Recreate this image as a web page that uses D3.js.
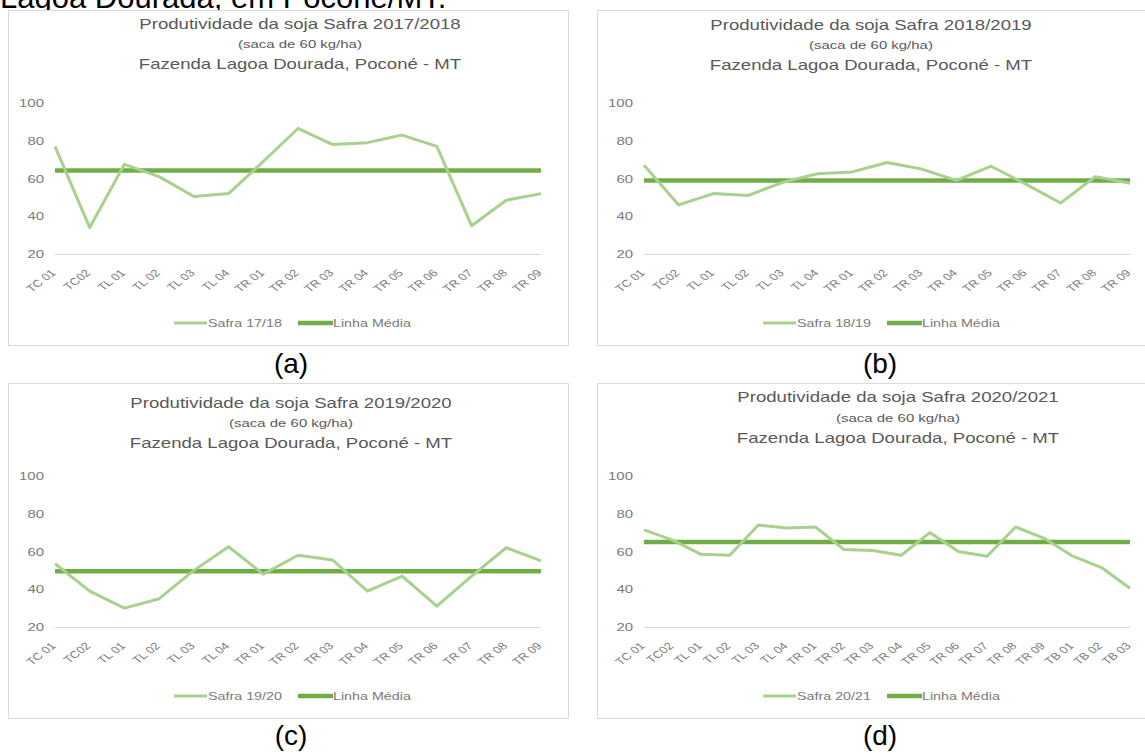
<!DOCTYPE html>
<html>
<head>
<meta charset="utf-8">
<script src="https://cdn.jsdelivr.net/npm/d3@7"></script>
<style>
  body { margin: 0; background: #fff; }
  svg { display: block; font-family: "Liberation Sans", Arial, sans-serif; }
</style>
</head>
<body>
<div id="chart"></div>
<script>
// categories (plots)
var cats15 = ["TC 01", "TC02", "TL 01", "TL 02", "TL 03", "TL 04", "TR 01", "TR 02", "TR 03", "TR 04", "TR 05", "TR 06", "TR 07", "TR 08", "TR 09"];
var cats18 = cats15.concat(["TB 01", "TB 02", "TB 03"]);

// productivity (saca de 60 kg/ha)
var safra1718 = [77, 34, 67.5, 61, 50.5, 52, 69, 86.5, 78, 79, 83, 77, 35, 48.5, 52];
var safra1819 = [67, 46, 52, 51, 58, 62.5, 63.5, 68.5, 65, 59, 66.5, 57, 47, 61, 57.5];
var safra1920 = [53.5, 39, 30, 35, 50, 62.5, 48, 58, 55.5, 39, 47, 31, 47, 62, 55];
var safra2021 = [71.5, 66, 58.5, 58, 74, 72.5, 73, 61, 60.5, 58, 70, 60, 57.5, 73, 67, 57.5, 51.5, 40.5];

// linha média of each season
var medias = [64.3, 59, 49.5, 65];

var yTicks = [20, 40, 60, 80, 100];
var safraNames = ["2017/2018", "2018/2019", "2019/2020", "2020/2021"];
var legendNames = ["Safra 17/18", "Safra 18/19", "Safra 19/20", "Safra 20/21"];
var panelLetters = ["(a)", "(b)", "(c)", "(d)"];

var W = 1145, H = 754;
var SX = 1.3;               // the chart pictures are stretched sideways
var lightGreen = "#a9d18e", darkGreen = "#70ad47";
var textGrey = "#595959", tickGrey = "#7a7a7a";

var svg = d3.select("#chart").append("svg")
    .attr("width", W)
    .attr("height", H);

svg.append("rect").attr("width", W).attr("height", H).attr("fill", "#fff");

// piece of the caption above, cut off by the crop
svg.append("text")
    .attr("x", 0)
    .attr("y", 8)
    .style("font-size", "31px")
    .attr("fill", "#000")
    .text("Lagoa Dourada, em Poconé/MT.");

var panels = [
    { x0: 8, y0: 10, cats: cats15, values: safra1718, titleX: 300, titleDy: [19, 38, 59], labelY: 373 },
    { x0: 597, y0: 10, cats: cats15, values: safra1819, titleX: 871, titleDy: [20, 39, 60], labelY: 373 },
    { x0: 8, y0: 383, cats: cats15, values: safra1920, titleX: 291, titleDy: [25, 44, 65], labelY: 745 },
    { x0: 597, y0: 383, cats: cats18, values: safra2021, titleX: 898, titleDy: [19, 39, 60], labelY: 745 }
];

function stretchedText(g, x, y, txt, size, color, anchor) {
    return g.append("text")
        .attr("transform", "translate(" + x + "," + y + ") scale(" + SX + ",1)")
        .attr("text-anchor", anchor || "middle")
        .style("font-size", size + "px")
        .attr("fill", color)
        .text(txt);
}

panels.forEach(function(p, i) {
    var g = svg.append("g");
    var boxW = 560, boxH = 335;

    // chart frame
    g.append("rect")
        .attr("x", p.x0 + 0.5)
        .attr("y", p.y0 + 0.5)
        .attr("width", boxW)
        .attr("height", boxH)
        .attr("fill", "#fff")
        .attr("stroke", "#d9d9d9");

    // titles
    stretchedText(g, p.titleX, p.y0 + p.titleDy[0], "Produtividade da soja Safra " + safraNames[i], 14.3, textGrey);
    stretchedText(g, p.titleX, p.y0 + p.titleDy[1], "(saca de 60 kg/ha)", 11.5, textGrey);
    stretchedText(g, p.titleX, p.y0 + p.titleDy[2], "Fazenda Lagoa Dourada, Poconé - MT", 14.3, textGrey);

    var x = d3.scalePoint()
        .domain(p.cats)
        .range([p.x0 + 47, p.x0 + 533])
        .padding(0);

    var y = d3.scaleLinear()
        .domain([20, 100])
        .range([p.y0 + 244, p.y0 + 93]);

    // baseline gridline at 20
    g.append("line")
        .attr("x1", x.range()[0])
        .attr("x2", x.range()[1])
        .attr("y1", y(20) + 0.5)
        .attr("y2", y(20) + 0.5)
        .attr("stroke", "#d9d9d9");

    // y axis labels
    var yAxis = g.append("g")
        .attr("transform", "translate(" + (p.x0 + 36) + ",0)")
        .call(d3.axisLeft(y).tickValues(yTicks).tickSize(0).tickPadding(0));
    yAxis.select(".domain").remove();
    yAxis.selectAll("text")
        .attr("transform", "scale(" + SX + ",1)")
        .attr("fill", tickGrey)
        .style("font-size", "11.5px")
        .style("font-family", "Liberation Sans, Arial, sans-serif");

    // x axis labels, rotated
    var xAxis = g.append("g")
        .attr("transform", "translate(-2," + (p.y0 + 261) + ")")
        .call(d3.axisBottom(x).tickSize(0).tickPadding(0));
    xAxis.select(".domain").remove();
    xAxis.selectAll("text")
        .attr("x", 0)
        .attr("y", 0)
        .attr("dy", "0.35em")
        .attr("text-anchor", "end")
        .attr("transform", "scale(" + SX + ",1) rotate(-45)")
        .attr("fill", tickGrey)
        .style("font-size", "10px")
        .style("font-family", "Liberation Sans, Arial, sans-serif");

    // average line
    g.append("line")
        .attr("x1", x.range()[0])
        .attr("x2", x.range()[1])
        .attr("y1", y(medias[i]))
        .attr("y2", y(medias[i]))
        .attr("stroke", darkGreen)
        .attr("stroke-width", 4.5);

    // season series
    var line = d3.line()
        .x(function(d, j) { return x(p.cats[j]); })
        .y(function(d) { return y(d); });

    g.append("path")
        .datum(p.values)
        .attr("d", line)
        .attr("fill", "none")
        .attr("stroke", lightGreen)
        .attr("stroke-width", 3)
        .attr("stroke-linejoin", "round");

    // legend
    var ly = p.y0 + 313;
    g.append("line")
        .attr("x1", p.x0 + 166).attr("x2", p.x0 + 199)
        .attr("y1", ly).attr("y2", ly)
        .attr("stroke", lightGreen).attr("stroke-width", 3);
    stretchedText(g, p.x0 + 200, ly + 4, legendNames[i], 11, tickGrey, "start");
    g.append("line")
        .attr("x1", p.x0 + 290).attr("x2", p.x0 + 325)
        .attr("y1", ly).attr("y2", ly)
        .attr("stroke", darkGreen).attr("stroke-width", 4.5);
    stretchedText(g, p.x0 + 325, ly + 4, "Linha Média", 11, tickGrey, "start");

    // panel letter under the chart
    svg.append("text")
        .attr("x", p.x0 + boxW / 2 + 3)
        .attr("y", p.labelY)
        .attr("text-anchor", "middle")
        .style("font-size", "28px")
        .attr("fill", "#000")
        .text(panelLetters[i]);
});
</script>
</body>
</html>
